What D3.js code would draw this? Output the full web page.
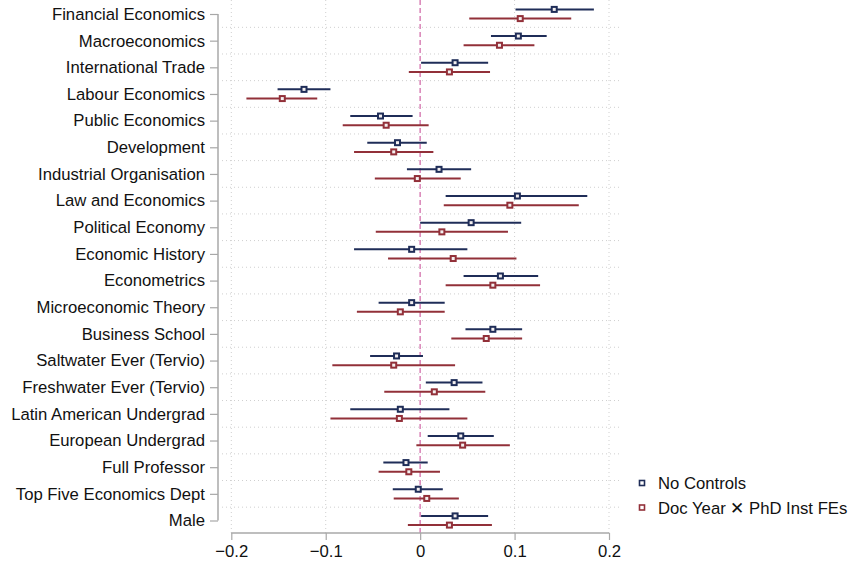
<!DOCTYPE html>
<html>
<head>
<meta charset="utf-8">
<script src="https://cdn.jsdelivr.net/npm/d3@7"></script>
<style>
  body { margin: 0; background: #fff; }
  svg { display: block; font-family: "Liberation Sans", Arial, sans-serif; }
</style>
</head>
<body>
<div id="chart"></div>
<script>
const categories = [
  "Financial Economics", "Macroeconomics", "International Trade", "Labour Economics",
  "Public Economics", "Development", "Industrial Organisation", "Law and Economics",
  "Political Economy", "Economic History", "Econometrics", "Microeconomic Theory",
  "Business School", "Saltwater Ever (Tervio)", "Freshwater Ever (Tervio)",
  "Latin American Undergrad", "European Undergrad", "Full Professor",
  "Top Five Economics Dept", "Male"
];

// No Controls: point estimate, lower, upper
const noCtrlEst = [0.142, 0.104, 0.037, -0.123, -0.042, -0.024, 0.020, 0.103, 0.054, -0.009,
  0.085, -0.009, 0.077, -0.025, 0.036, -0.021, 0.043, -0.015, -0.002, 0.037];
const noCtrlLo = [0.101, 0.075, 0.001, -0.151, -0.074, -0.056, -0.014, 0.027, 0.000, -0.070,
  0.046, -0.044, 0.048, -0.053, 0.006, -0.074, 0.008, -0.039, -0.029, 0.001];
const noCtrlHi = [0.184, 0.134, 0.072, -0.095, -0.008, 0.007, 0.054, 0.177, 0.107, 0.050,
  0.125, 0.026, 0.108, 0.003, 0.066, 0.031, 0.078, 0.008, 0.024, 0.072];

// Doc Year x PhD Inst FEs
const fixedEst = [0.106, 0.084, 0.031, -0.146, -0.036, -0.028, -0.003, 0.095, 0.023, 0.035,
  0.077, -0.021, 0.070, -0.028, 0.015, -0.022, 0.045, -0.012, 0.007, 0.031];
const fixedLo = [0.052, 0.046, -0.012, -0.184, -0.082, -0.070, -0.048, 0.025, -0.047, -0.034,
  0.027, -0.067, 0.033, -0.093, -0.038, -0.095, -0.004, -0.044, -0.028, -0.013];
const fixedHi = [0.160, 0.121, 0.074, -0.109, 0.009, 0.014, 0.043, 0.168, 0.093, 0.102,
  0.127, 0.026, 0.108, 0.037, 0.069, 0.050, 0.095, 0.021, 0.041, 0.076];

const xTicks = [-0.2, -0.1, 0, 0.1, 0.2];
const seriesNames = ["No Controls", "Doc Year \u2715 PhD Inst FEs"];
const seriesColors = ["#1f2d58", "#923039"];

const width = 852, height = 566;
const fontSize = 16.7;

const svg = d3.select("#chart").append("svg")
  .attr("width", width)
  .attr("height", height);

const x = d3.scaleLinear().domain([-0.2, 0.2]).range([231.3, 609]);
const y = d3.scalePoint().domain(categories).range([14, 520.5]);
const step = y.step();

const plotTop = 0, plotBottom = 533, plotLeft = 222, plotRight = 620;

// grid
const grid = svg.append("g");
grid.selectAll("line.vg")
  .data(xTicks.filter(d => d !== 0))
  .join("line")
  .attr("x1", d => x(d)).attr("x2", d => x(d))
  .attr("y1", plotTop).attr("y2", plotBottom)
  .attr("stroke", "#cfcfcf").attr("stroke-width", 1)
  .attr("stroke-dasharray", "1,3");

grid.selectAll("line.hg")
  .data(categories.slice(1))
  .join("line")
  .attr("x1", plotLeft).attr("x2", plotRight)
  .attr("y1", d => y(d) - step / 2).attr("y2", d => y(d) - step / 2)
  .attr("stroke", "#cfcfcf").attr("stroke-width", 1)
  .attr("stroke-dasharray", "1,3");

// zero reference line
svg.append("line")
  .attr("x1", x(0)).attr("x2", x(0))
  .attr("y1", plotTop).attr("y2", plotBottom)
  .attr("stroke", "#d982b6").attr("stroke-width", 1.5)
  .attr("stroke-dasharray", "5,3");

// axes
const yAxis = svg.append("g")
  .attr("transform", "translate(218,0)")
  .call(d3.axisLeft(y).tickSize(8).tickPadding(5));
yAxis.select(".domain").attr("stroke", "#a8a8a8").attr("stroke-width", 1.5)
  .attr("d", `M0,${y(categories[0])}V${y(categories[categories.length - 1])}`);
yAxis.selectAll(".tick line").attr("stroke", "#a8a8a8").attr("stroke-width", 1.2);
yAxis.selectAll(".tick text").attr("font-size", fontSize).attr("fill", "#111");

const xAxis = svg.append("g")
  .attr("transform", `translate(0,${plotBottom})`)
  .call(d3.axisBottom(x).tickValues(xTicks).tickSize(7).tickPadding(5)
    .tickFormat(d => d === 0 ? "0" : d3.format(".1f")(d).replace("-", "\u2212")));
xAxis.select(".domain").attr("stroke", "#a8a8a8").attr("stroke-width", 1.5)
  .attr("d", `M${x(-0.2)},0H${x(0.2)}`);
xAxis.selectAll(".tick line").attr("stroke", "#a8a8a8").attr("stroke-width", 1.2);
xAxis.selectAll(".tick text").attr("font-size", fontSize).attr("fill", "#111");

// series
const series = [
  { est: noCtrlEst, lo: noCtrlLo, hi: noCtrlHi, off: -4.6 },
  { est: fixedEst, lo: fixedLo, hi: fixedHi, off: 4.6 }
];

series.forEach((s, si) => {
  const rows = categories.map((c, i) => ({ c, est: s.est[i], lo: s.lo[i], hi: s.hi[i] }));
  const g = svg.append("g");
  g.selectAll("line")
    .data(rows)
    .join("line")
    .attr("x1", d => x(d.lo)).attr("x2", d => x(d.hi))
    .attr("y1", d => y(d.c) + s.off).attr("y2", d => y(d.c) + s.off)
    .attr("stroke", seriesColors[si]).attr("stroke-width", 2);
  g.selectAll("rect")
    .data(rows)
    .join("rect")
    .attr("x", d => x(d.est) - 2.5).attr("y", d => y(d.c) + s.off - 2.5)
    .attr("width", 5).attr("height", 5)
    .attr("fill", "#f4f0f0")
    .attr("stroke", seriesColors[si]).attr("stroke-width", 2);
});

// legend
const legend = svg.append("g").attr("transform", "translate(642,483)");
seriesNames.forEach((name, i) => {
  const row = legend.append("g").attr("transform", `translate(0,${i * 24.5})`);
  row.append("rect")
    .attr("x", -2.5).attr("y", -2.5).attr("width", 5).attr("height", 5)
    .attr("fill", "#fff").attr("stroke", seriesColors[i]).attr("stroke-width", 1.6);
  row.append("text")
    .attr("x", 16).attr("y", 6)
    .attr("font-size", fontSize).attr("fill", "#111")
    .text(name);
});
</script>
</body>
</html>
